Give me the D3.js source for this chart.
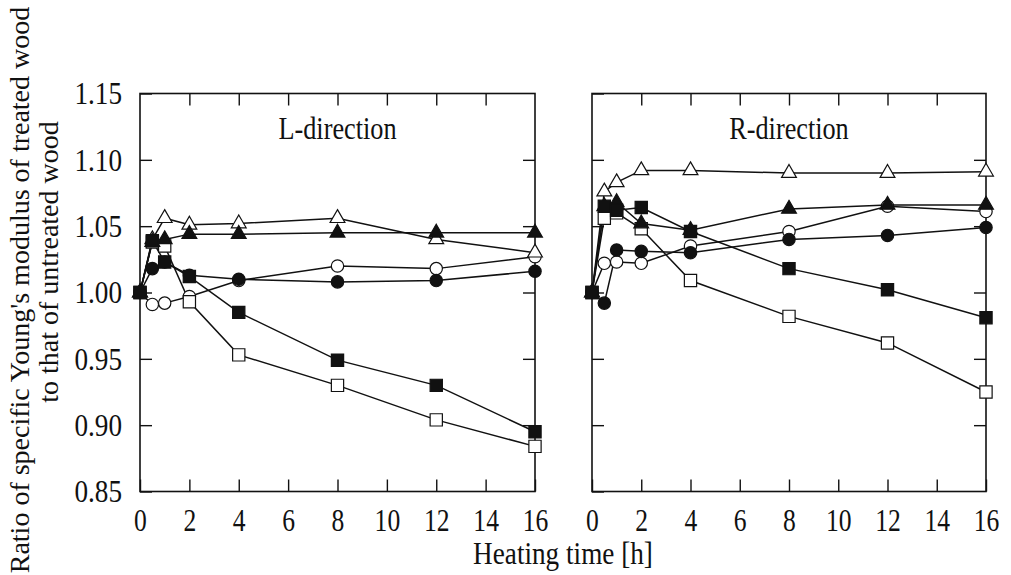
<!DOCTYPE html>
<html>
<head>
<meta charset="utf-8">
<script src="https://cdn.jsdelivr.net/npm/d3@7"></script>
<style>
  body { margin: 0; background: #fff; }
  svg text { font-family: "Liberation Serif", "DejaVu Serif", serif; fill: #111; }
</style>
</head>
<body>
<div id="chart"></div>
<script>
const width = 1011;
const height = 575;

// heating time [h]
const times = [0, 0.5, 1, 2, 4, 8, 12, 16];
const xTicks = [0, 2, 4, 6, 8, 10, 12, 14, 16];
const yTicks = [0.85, 0.90, 0.95, 1.00, 1.05, 1.10, 1.15];

// L-direction
const openCircleL     = [1.000, 0.991, 0.992, 0.997, 1.009, 1.020, 1.018, 1.027];
const filledCircleL   = [1.000, 1.018, 1.023, 1.013, 1.010, 1.008, 1.009, 1.016];
const openTriangleL   = [1.000, 1.040, 1.056, 1.051, 1.052, 1.056, 1.040, 1.030];
const filledTriangleL = [1.000, 1.038, 1.040, 1.044, 1.044, 1.045, 1.045, 1.045];
const openSquareL     = [1.000, 1.038, 1.035, 0.993, 0.953, 0.930, 0.904, 0.884];
const filledSquareL   = [1.000, 1.039, 1.023, 1.012, 0.985, 0.949, 0.930, 0.895];

// R-direction
const openCircleR     = [1.000, 1.022, 1.023, 1.022, 1.035, 1.046, 1.065, 1.061];
const filledCircleR   = [1.000, 0.992, 1.032, 1.031, 1.030, 1.040, 1.043, 1.049];
const openTriangleR   = [1.000, 1.076, 1.083, 1.092, 1.092, 1.090, 1.090, 1.091];
const filledTriangleR = [1.000, 1.065, 1.068, 1.052, 1.047, 1.063, 1.066, 1.066];
const openSquareR     = [1.000, 1.056, 1.060, 1.048, 1.009, 0.982, 0.962, 0.925];
const filledSquareR   = [1.000, 1.065, 1.062, 1.064, 1.046, 1.018, 1.002, 0.981];

const panels = [
    { label: "L-direction", left: 140, right: 535, showY: true,
      series: [
        { shape: "circle", filled: false, values: openCircleL },
        { shape: "triangle", filled: false, values: openTriangleL },
        { shape: "square", filled: false, values: openSquareL },
        { shape: "circle", filled: true, values: filledCircleL },
        { shape: "triangle", filled: true, values: filledTriangleL },
        { shape: "square", filled: true, values: filledSquareL }
      ] },
    { label: "R-direction", left: 592, right: 986, showY: false,
      series: [
        { shape: "circle", filled: false, values: openCircleR },
        { shape: "triangle", filled: false, values: openTriangleR },
        { shape: "square", filled: false, values: openSquareR },
        { shape: "circle", filled: true, values: filledCircleR },
        { shape: "triangle", filled: true, values: filledTriangleR },
        { shape: "square", filled: true, values: filledSquareR }
      ] }
];

const plotTop = 93.5;
const plotBottom = 491.5;
const tickLen = 12;
const serif = '"Liberation Serif", "DejaVu Serif", serif';

// the scanned figure's lettering is tall and narrow: squeeze glyphs horizontally
function condense(sel, factor) {
    sel.each(function () {
        const w = this.getComputedTextLength();
        if (w > 0) {
            d3.select(this).attr("textLength", w * factor).attr("lengthAdjust", "spacingAndGlyphs");
        }
    });
}

const svg = d3.select("#chart")
    .append("svg")
    .attr("width", width)
    .attr("height", height);

svg.append("rect").attr("width", width).attr("height", height).attr("fill", "#fff");

const y = d3.scaleLinear().domain([0.85, 1.15]).range([plotBottom, plotTop]);

const symbols = {
    circle: d3.symbol().type(d3.symbolCircle).size(120),
    triangle: d3.symbol().type(d3.symbolTriangle).size(95),
    square: d3.symbol().type(d3.symbolSquare).size(150)
};

panels.forEach(p => {
    const x = d3.scaleLinear().domain([0, 16]).range([p.left, p.right]);
    const g = svg.append("g");

    // axes (ticks inside)
    const bottomAxis = d3.axisBottom(x).tickValues(xTicks).tickSize(-tickLen).tickPadding(17);
    const topAxis = d3.axisTop(x).tickValues(xTicks.slice(1, -1)).tickSize(-tickLen).tickFormat("");
    const leftAxis = d3.axisLeft(y).tickValues(yTicks).tickSize(-tickLen).tickPadding(18)
        .tickFormat(p.showY ? d3.format(".2f") : "");
    const rightAxis = d3.axisRight(y).tickValues(yTicks.slice(1, -1)).tickSize(-tickLen).tickFormat("");

    [[bottomAxis, `translate(0,${plotBottom})`, 32, 0.8], [topAxis, `translate(0,${plotTop})`, 32, 1],
     [leftAxis, `translate(${p.left},0)`, 32, 0.85], [rightAxis, `translate(${p.right},0)`, 32, 1]]
        .forEach(([axis, tr, fs, squeeze]) => {
            const a = g.append("g").attr("transform", tr).call(axis)
                .attr("font-family", serif).attr("font-size", fs);
            a.select(".domain").remove();
            a.selectAll("line").attr("stroke", "#111").attr("stroke-width", 1.4);
            a.selectAll("text").attr("fill", "#111").call(condense, squeeze);
        });

    g.append("rect")
        .attr("x", p.left).attr("y", plotTop)
        .attr("width", p.right - p.left).attr("height", plotBottom - plotTop)
        .attr("fill", "none").attr("stroke", "#111").attr("stroke-width", 1.6);

    g.append("text")
        .attr("x", (p.left + p.right) / 2).attr("y", 139)
        .attr("text-anchor", "middle").attr("font-size", 32)
        .attr("font-family", serif)
        .text(p.label)
        .call(condense, 0.82);

    const line = d3.line().x((d, i) => x(times[i])).y(d => y(d));

    g.selectAll(".series-line").data(p.series).enter()
        .append("path")
        .attr("class", "series-line")
        .attr("d", s => line(s.values))
        .attr("fill", "none")
        .attr("stroke", "#111")
        .attr("stroke-width", 1.5);

    p.series.forEach(s => {
        g.selectAll(null).data(s.values).enter()
            .append("path")
            .attr("d", symbols[s.shape])
            .attr("transform", (d, i) => `translate(${x(times[i])},${y(d)})`)
            .attr("fill", s.filled ? "#111" : "#fff")
            .attr("stroke", "#111")
            .attr("stroke-width", 1.2);
    });
});

// axis titles
svg.append("text")
    .attr("x", (140 + 986) / 2).attr("y", 564)
    .attr("text-anchor", "middle").attr("font-size", 32)
    .attr("font-family", serif)
    .text("Heating time [h]")
    .call(condense, 0.85);

const yTitle = svg.append("text")
    .attr("transform", "translate(0,290) rotate(-90)")
    .attr("text-anchor", "middle").attr("font-size", 28)
    .attr("font-family", serif);
yTitle.append("tspan").attr("x", 0).attr("y", 29).text("Ratio of specific Young's modulus of treated wood");
yTitle.append("tspan").attr("x", 28).attr("y", 58).text("to that of untreated wood");
</script>
</body>
</html>
